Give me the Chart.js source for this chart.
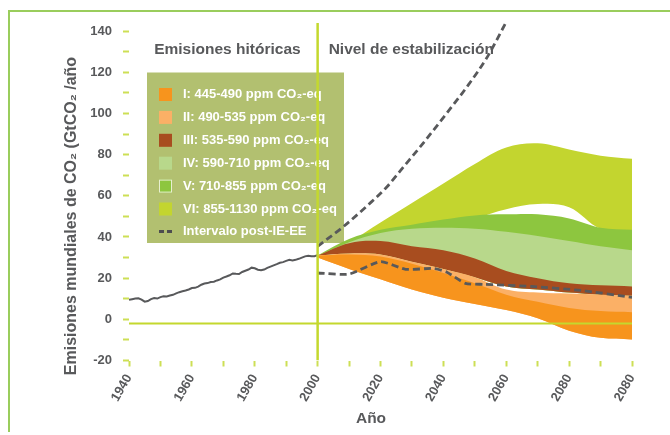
<!DOCTYPE html>
<html>
<head>
<meta charset="utf-8">
<script src="https://cdn.jsdelivr.net/npm/chart.js@4/dist/chart.umd.min.js"></script>
<style>
  html, body { margin: 0; padding: 0; background: #fff; }
  #wrap { position: relative; width: 670px; height: 435px; }
  #frame {
    position: absolute; left: 8px; top: 10px; width: 662px; height: 420px;
    border-top: 2px solid #9acd5c; border-left: 2px solid #9acd5c;
    pointer-events: none;
  }
</style>
</head>
<body>
<div id="wrap">
  <canvas id="co2-chart" width="670" height="435"></canvas>
  <div id="frame"></div>
</div>
<script>
// historical emissions 1940-2000
const histYears = [1940, 1941, 1942, 1943, 1944, 1945, 1946, 1947, 1948, 1949,
  1950, 1951, 1952, 1953, 1954, 1955, 1956, 1957, 1958, 1959,
  1960, 1961, 1962, 1963, 1964, 1965, 1966, 1967, 1968, 1969,
  1970, 1971, 1972, 1973, 1974, 1975, 1976, 1977, 1978, 1979,
  1980, 1981, 1982, 1983, 1984, 1985, 1986, 1987, 1988, 1989,
  1990, 1991, 1992, 1993, 1994, 1995, 1996, 1997, 1998, 1999, 2000];
const histValues = [9.5, 9.8, 10.1, 10.2, 9.6, 8.6, 8.9, 9.8, 10.3, 10.1,
  10.8, 11.2, 11.1, 11.6, 11.9, 12.6, 13.2, 13.6, 14.0, 14.5,
  15.2, 15.3, 15.9, 16.8, 17.4, 17.6, 18.1, 18.3, 18.9, 19.4,
  20.3, 20.8, 21.4, 22.3, 22.1, 22.0, 23.0, 23.6, 24.2, 25.1,
  24.8, 24.1, 23.9, 24.2, 25.0, 25.6, 26.2, 26.8, 27.5, 27.8,
  28.4, 28.9, 28.6, 28.9, 29.4, 30.0, 30.6, 30.9, 30.6, 30.7, 31.2];

// post-SRES range (dashed)
const upperDashYears = [2000, 2008, 2016, 2022, 2027, 2033, 2041, 2048, 2054, 2060];
const upperDashValues = [35.5, 44.8, 55.5, 64.3, 73.5, 84.5, 100, 114, 127.5, 144.5];
const lowerDashYears = [2000, 2010, 2020, 2028, 2037, 2041, 2047, 2053, 2068, 2084, 2100];
const lowerDashValues = [22.5, 22, 28, 24.3, 24.7, 23, 17.5, 17, 16, 14, 10.7];

// stabilisation bands
const bandYears = [2000, 2010, 2020, 2030, 2040, 2050, 2060, 2070, 2080, 2090, 2100];
const bandNames = [
  "I: 445-490 ppm CO\u2082-eq",
  "II: 490-535 ppm CO\u2082-eq",
  "III: 535-590 ppm CO\u2082-eq",
  "IV: 590-710 ppm CO\u2082-eq",
  "V: 710-855 ppm CO\u2082-eq",
  "VI: 855-1130 ppm CO\u2082-eq"
];
const bandColors = ['#f7941d', '#fbb066', '#a84d1f', '#b8d88b', '#8dc63f', '#c3d52f'];
const bandLow = [
  [30, 24.5, 19.5, 14.5, 10.5, 7.5, 4.5, 0.5, -5.5, -9, -9.8],
  [30, 24.5, 19.5, 14.5, 10.5, 7.5, 4.5, 0.5, -5.5, -9, -9.8],
  [31, 32, 31.5, 28, 24.5, 20.5, 16, 14.5, 13, 12, 11.5],
  [31, 32, 31.5, 28, 24.5, 20.5, 16, 14.5, 13, 12, 11.5],
  [31, 32, 31.5, 28, 24.5, 20.5, 16, 14.5, 13, 12, 11.5],
  [31, 35, 40, 43, 45.5, 49, 53.5, 56, 54.5, 44, 42.5]
];
const bandHigh = [
  [31, 31.5, 30.5, 27, 22.5, 17.5, 12, 8.5, 5.5, 4, 3.5],
  [31, 32, 31.5, 28, 24.5, 20.5, 14.5, 13, 12.5, 12, 11.5],
  [31, 37, 38, 35.5, 33.5, 29.5, 23.5, 20, 17.5, 16.5, 16],
  [31, 37.5, 42, 44, 44.5, 44, 42.5, 40.5, 38, 35.5, 33.5],
  [31, 39, 43.5, 46, 48.5, 50.5, 51, 51, 49, 44.5, 43.5],
  [31, 37.5, 47, 56.5, 66, 75.5, 83.5, 85.5, 82.5, 79.5, 78]
];

const dashLabel = "Intervalo post-IE-EE";
const xTicks = [1940, 1950, 1960, 1970, 1980, 1990, 2000, 2010, 2020, 2030, 2040, 2050, 2060, 2070, 2080, 2090, 2100];
const xTickLabels = ['1940', '1960', '1980', '2000', '2020', '2040', '2060', '2080', '2080'];
const yTicks = [-20, -10, 0, 10, 20, 30, 40, 50, 60, 70, 80, 90, 100, 110, 120, 130, 140];

const FONT = "'Liberation Sans', Arial, sans-serif";
const GREY = '#58595b';
const LIME = '#c4d82e';

const pts = (xs, ys) => xs.map((x, i) => ({ x: x, y: ys[i] }));

const bandSets = [];
bandNames.forEach((name, i) => {
  bandSets.push({
    data: pts(bandYears, bandLow[i]),
    borderWidth: 0, pointRadius: 0, tension: 0.35, fill: false
  });
  bandSets.push({
    data: pts(bandYears, bandHigh[i]),
    borderWidth: 0, pointRadius: 0, tension: 0.35,
    fill: '-1', backgroundColor: bandColors[i]
  });
});

// legend box, notes and axis title
const decorPlugin = {
  id: 'decor',
  beforeDatasetsDraw(chart) {
    const ctx = chart.ctx;
    const xs = chart.scales.x, ys = chart.scales.y;
    ctx.save();
    ctx.fillStyle = '#b2c070';
    ctx.fillRect(147, 72.5, 197, 170.5);
    ctx.font = 'bold 13px ' + FONT;
    ctx.textBaseline = 'middle';
    bandNames.forEach((name, i) => {
      const y = 94.5 + i * 22.9;
      ctx.fillStyle = bandColors[i];
      ctx.fillRect(159, y - 6.5, 13, 13);
      if (i === 4) {
        ctx.strokeStyle = '#e8efd0';
        ctx.lineWidth = 1;
        ctx.strokeRect(159.5, y - 6, 12, 12);
      }
      ctx.fillStyle = '#fff';
      ctx.fillText(name, 183, y);
    });
    const dy = 94.5 + 6 * 22.9 - 0.5;
    ctx.strokeStyle = '#4d4d4f';
    ctx.lineWidth = 3;
    ctx.beginPath();
    ctx.moveTo(159, dy); ctx.lineTo(164, dy);
    ctx.moveTo(167, dy); ctx.lineTo(172, dy);
    ctx.stroke();
    ctx.fillStyle = '#fff';
    ctx.fillText(dashLabel, 183, dy);

    ctx.fillStyle = GREY;
    ctx.font = 'bold 15.5px ' + FONT;
    const x2000 = xs.getPixelForValue(2000);
    const yNote = ys.getPixelForValue(131);
    ctx.textAlign = 'right';
    ctx.fillText('Emisiones hitóricas', x2000 - 17, yNote);
    ctx.textAlign = 'left';
    ctx.fillText('Nivel de estabilización', x2000 + 11, yNote);
    ctx.restore();
  },
  afterDraw(chart) {
    const ctx = chart.ctx;
    ctx.save();
    ctx.fillStyle = GREY;
    ctx.font = 'bold 16px ' + FONT;
    ctx.textAlign = 'center';
    ctx.textBaseline = 'middle';
    ctx.translate(72, 216);
    ctx.rotate(-Math.PI / 2);
    ctx.fillText('Emisiones mundiales de CO\u2082 (GtCO\u2082 /año', 0, 0);
    ctx.restore();
    ctx.save();
    ctx.fillStyle = GREY;
    ctx.font = 'bold 15.5px ' + FONT;
    ctx.textAlign = 'center';
    ctx.textBaseline = 'middle';
    ctx.fillText('Año', 371, 419);
    ctx.restore();
  }
};

const chart = new Chart(document.getElementById('co2-chart').getContext('2d'), {
  type: 'line',
  data: {
    datasets: [
      { data: [{ x: 2000, y: -20 }, { x: 2000, y: 144 }], borderColor: LIME, borderWidth: 2.5, pointRadius: 0 },
      { data: [{ x: 1940, y: -2 }, { x: 2100, y: -2 }], borderColor: LIME, borderWidth: 2, pointRadius: 0 },
      { data: pts(histYears, histValues), borderColor: GREY, borderWidth: 2, pointRadius: 0, tension: 0 },
      { data: pts(upperDashYears, upperDashValues), borderColor: GREY, borderWidth: 2.8, borderDash: [7, 4], pointRadius: 0, cubicInterpolationMode: 'monotone' },
      { data: pts(lowerDashYears, lowerDashValues), borderColor: GREY, borderWidth: 2.8, borderDash: [7, 4], pointRadius: 0, tension: 0.2 },
      ...bandSets
    ]
  },
  options: {
    responsive: false,
    animation: false,
    layout: { padding: { left: 0, top: 18, right: 38, bottom: 0 } },
    plugins: { legend: { display: false }, tooltip: { enabled: false } },
    scales: {
      x: {
        type: 'linear', min: 1940, max: 2100,
        afterBuildTicks: s => { s.ticks = xTicks.map(v => ({ value: v })); },
        afterFit: s => { s.height = 74.5; },
        grid: { drawOnChartArea: false, tickLength: 6, tickWidth: 2, tickColor: '#cddf55' },
        border: { display: false },
        ticks: {
          minRotation: 60, maxRotation: 60, padding: 5, color: GREY,
          font: { family: FONT, size: 13, weight: 'bold' },
          callback: v => (v - 1940) % 20 === 0 ? xTickLabels[(v - 1940) / 20] : ''
        }
      },
      y: {
        min: -20, max: 146,
        afterBuildTicks: s => { s.ticks = yTicks.map(v => ({ value: v })); },
        afterFit: s => { s.width = 129; },
        grid: { drawOnChartArea: false, tickLength: 6, tickWidth: 2, tickColor: '#cddf55' },
        border: { display: false },
        ticks: {
          padding: 11, color: GREY,
          font: { family: FONT, size: 13, weight: 'bold' },
          callback: v => v % 20 === 0 ? String(v) : ''
        }
      }
    }
  },
  plugins: [decorPlugin]
});
</script>
</body>
</html>
